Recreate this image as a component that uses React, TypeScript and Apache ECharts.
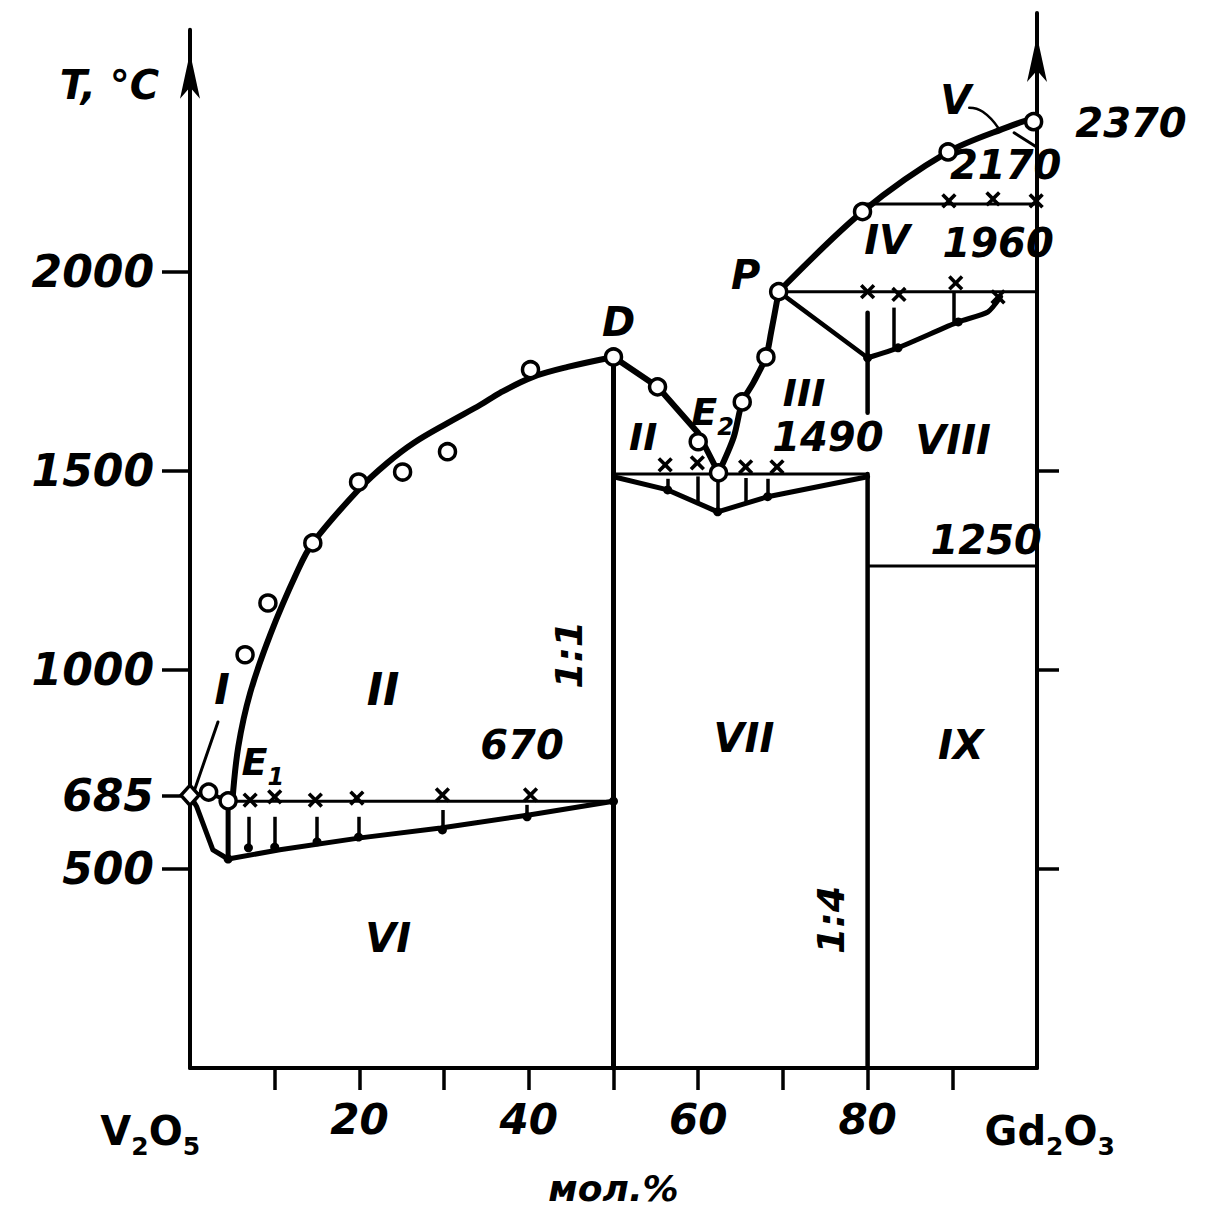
import React, { useEffect, useRef } from "react";
import * as echarts from "echarts";

// ---------- data (x: mol.% Gd2O3, y: T, °C) ----------
const yTickValues = [500, 685, 1000, 1500, 2000];
const yRightTicks = [500, 1000, 1500];
const xTickValues = [10, 20, 30, 40, 50, 60, 70, 80, 90];
const xLabelValues = [20, 40, 60, 80];

const liquidusLeft = [[5, 670], [5.7, 807], [7.1, 942], [9.5, 1090], [12.6, 1244], [14.5, 1319], [20, 1455], [23.3, 1520], [26.4, 1570], [30.4, 1620], [34.3, 1666], [36.6, 1696], [40.5, 1736], [44.6, 1761], [50, 1786]];
const liquidusDE2 = [[50, 1786], [55.2, 1711], [60, 1595], [62.4, 1495]];
const liquidusE2P = [[62.4, 1495], [64.2, 1585], [65.2, 1673], [66.5, 1721], [68, 1786], [68.6, 1847], [69.5, 1950]];
const liquidusTop = [[69.5, 1950], [79.4, 2151], [89.5, 2301], [96.6, 2364], [100, 2389]];
const v2o5Branch = [[0, 685], [2.2, 690], [4.5, 672]];
const eutectic670 = [[4.5, 670], [50, 670]];
const solidusLeftSteep = [[0, 685], [0.8, 656], [2.7, 548], [4.5, 525]];
const solidusLeft = [[4.5, 525], [10.6, 548], [20.1, 578], [29.6, 603], [40.2, 636], [50, 670]];
const vert45 = [[4.5, 670], [4.5, 525]];
const leaderI = [[0.4, 690], [3.3, 869]];
const line11 = [[50, 1786], [50, 0]];
const eutectic1490 = [[50, 1492], [80, 1492]];
const vBottom = [[50, 1485], [56.4, 1452], [62.3, 1397], [68.2, 1435], [80, 1485]];
const line14Upper = [[80, 1897], [80, 1646]];
const line14Lower = [[80, 1492], [80, 0]];
const pDiagonal = [[69.5, 1950], [80, 1784]];
const solidusRight = [[80, 1784], [83.6, 1809], [90.7, 1874], [94.2, 1899], [95.7, 1937]];
const peritectic1960 = [[69.5, 1950], [100, 1950]];
const line2170 = [[79.4, 2170], [100, 2170]];
const line1250 = [[80, 1261], [100, 1261]];
const arcV = [[97.3, 2349], [99.9, 2314]];
const leaderV = [[92, 2412], [93.6, 2402], [95.4, 2362]];
const leftAxis = [[0, 0], [0, 2608]];
const arrowTips = [[0, 2608], [100, 2650]];

// hatches: [x, top, bottom]
const hatches = [
  [6.9, 631, 553], [10, 631, 555], [15, 631, 568], [19.9, 631, 580], [29.8, 648, 598], [39.8, 661, 631],
  [56.4, 1480, 1452], [60, 1486, 1414], [62.3, 1495, 1397], [65.6, 1482, 1420], [68.2, 1480, 1435],
  [83.1, 1910, 1804], [90.2, 1947, 1874],
];

const circlePts = [[2.2, 693], [4.5, 671], [6.5, 1038], [9.2, 1168], [14.5, 1319], [19.9, 1472], [25.1, 1497], [30.4, 1548], [40.2, 1754], [50, 1786], [55.2, 1711], [60, 1573], [62.4, 1495], [65.2, 1673], [68, 1786], [69.5, 1950], [79.4, 2151], [89.5, 2301], [99.6, 2377]];
const crossPts = [[7.1, 673], [10, 681], [14.8, 673], [19.7, 678], [29.8, 686], [40.2, 686], [56.1, 1515], [59.9, 1520], [65.6, 1510], [69.3, 1510], [80, 1950], [83.7, 1943], [90.4, 1972], [95.4, 1937], [89.6, 2178], [94.8, 2183], [99.9, 2178]];
const dotPts = [[4.5, 525], [6.9, 553], [10, 555], [15, 568], [19.9, 580], [29.8, 598], [39.8, 631], [50, 670], [56.4, 1452], [62.3, 1397], [68.2, 1435], [80, 1784], [83.6, 1809], [90.7, 1874]];
const diamondPts = [[0, 685]];

// annotations: [text, x, T, fontSize, rotate, italic]
const annotations: [string, number, number, number, number, boolean][] = [
  ["T, °C", -9.5, 2470, 40, 0, true],
  ["I", 3.8, 950, 42, 0, true],
  ["II", 22.8, 950, 44, 0, true],
  ["{m|E}{s|1}", 8.6, 769, 38, 0, true],
  ["670", 39.2, 812, 40, 0, true],
  ["1:1", 44.7, 1038, 38, 90, true],
  ["VI", 23.4, 327, 40, 0, true],
  ["VII", 65.4, 829, 40, 0, true],
  ["IX", 91, 812, 40, 0, true],
  ["1:4", 75.7, 372, 38, 90, true],
  ["VIII", 90.1, 1578, 40, 0, true],
  ["III", 72.5, 1696, 38, 0, true],
  ["1490", 75.3, 1585, 40, 0, true],
  ["IV", 82.3, 2080, 40, 0, true],
  ["1960", 95.4, 2073, 40, 0, true],
  ["V", 90.4, 2432, 40, 0, true],
  ["2170", 96.3, 2269, 40, 0, true],
  ["2370", 111.1, 2374, 40, 0, true],
  ["P", 65.6, 1992, 40, 0, true],
  ["D", 50.6, 1874, 40, 0, true],
  ["{m|E}{s|2}", 61.7, 1648, 38, 0, true],
  ["II", 53.5, 1585, 38, 0, true],
  ["1250", 94, 1327, 40, 0, true],
  ["{m|V}{s|2}{m|O}{s|5}", -4.7, -158, 40, 0, false],
  ["{m|Gd}{s|2}{m|O}{s|3}", 101.5, -158, 40, 0, false],
];

const FONT = "DejaVu Sans";

function lineSeries(pts: number[][], width: number, smooth: number | boolean = false) {
  return {
    type: "line",
    data: pts,
    symbol: "none",
    smooth,
    clip: false,
    silent: true,
    lineStyle: { color: "#000", width, cap: "round", join: "round", opacity: 1 },
    z: 3,
  };
}

function buildOption() {
  const xShape = "path://M-1,-5L1,-5L1,-1L5,-1L5,1L1,1L1,5L-1,5L-1,1L-5,1L-5,-1L-1,-1Z";
  return {
    animation: false,
    backgroundColor: "#fff",
    grid: { left: 190, right: 177, top: 13, bottom: 154 },
    xAxis: {
      type: "value",
      min: 0,
      max: 100,
      name: "мол.%",
      nameLocation: "middle",
      nameGap: 102,
      nameTextStyle: { fontFamily: FONT, fontSize: 36, fontStyle: "italic", fontWeight: "bold", color: "#000" },
      axisLine: { show: true, lineStyle: { color: "#000", width: 4 } },
      axisTick: { show: true, customValues: xTickValues, length: 22, lineStyle: { color: "#000", width: 3.5 } },
      axisLabel: { show: true, customValues: xLabelValues, margin: 30, fontFamily: FONT, fontSize: 42, fontStyle: "italic", fontWeight: "bold", color: "#000", formatter: (v: number) => String(v) },
      splitLine: { show: false },
    },
    yAxis: [
      {
        type: "value",
        min: 0,
        max: 2650,
        position: "left",
        axisLine: { show: false },
        axisTick: { show: true, customValues: yTickValues, length: 28, lineStyle: { color: "#000", width: 3.5 } },
        axisLabel: { show: true, customValues: yTickValues, margin: 36, fontFamily: FONT, fontSize: 44, fontStyle: "italic", fontWeight: "bold", color: "#000", formatter: (v: number) => String(v) },
        splitLine: { show: false },
      },
      {
        type: "value",
        min: 0,
        max: 2650,
        position: "right",
        axisLine: { show: true, onZero: false, lineStyle: { color: "#000", width: 4 } },
        axisTick: { show: true, customValues: yRightTicks, length: 22, lineStyle: { color: "#000", width: 3.5 } },
        axisLabel: { show: false },
        splitLine: { show: false },
      },
    ],
    series: [
      lineSeries(leftAxis, 4),
      lineSeries(liquidusLeft, 6, 0.35),
      lineSeries(liquidusDE2, 6),
      lineSeries(liquidusE2P, 6, 0.3),
      lineSeries(liquidusTop, 6, 0.3),
      lineSeries(v2o5Branch, 4),
      lineSeries(eutectic670, 3),
      lineSeries(solidusLeftSteep, 5),
      lineSeries(solidusLeft, 5),
      lineSeries(vert45, 5),
      lineSeries(leaderI, 3),
      lineSeries(line11, 5),
      lineSeries(eutectic1490, 3),
      lineSeries(vBottom, 5),
      lineSeries(line14Upper, 4.5),
      lineSeries(line14Lower, 4.5),
      lineSeries(pDiagonal, 4.5),
      lineSeries(solidusRight, 5, 0.2),
      lineSeries(peritectic1960, 3),
      lineSeries(line2170, 3),
      lineSeries(line1250, 3),
      lineSeries(arcV, 3),
      lineSeries(leaderV, 2.5, 0.5),
      {
        type: "lines",
        coordinateSystem: "cartesian2d",
        silent: true,
        clip: false,
        lineStyle: { color: "#000", width: 3.5, opacity: 1 },
        data: hatches.map((h) => ({ coords: [[h[0], h[1]], [h[0], h[2]]] })),
        z: 3,
      },
      {
        type: "scatter",
        data: arrowTips,
        symbol: "arrow",
        symbolSize: [15, 46],
        symbolOffset: [0, "50%"],
        itemStyle: { color: "#000", opacity: 1 },
        clip: false,
        silent: true,
        z: 5,
      },
      {
        type: "scatter",
        data: dotPts,
        symbol: "circle",
        symbolSize: 9,
        itemStyle: { color: "#000", opacity: 1 },
        clip: false,
        silent: true,
        z: 5,
      },
      {
        type: "scatter",
        data: crossPts,
        symbol: xShape,
        symbolSize: 18,
        symbolRotate: 45,
        itemStyle: { color: "#000", opacity: 1 },
        clip: false,
        silent: true,
        z: 6,
      },
      {
        type: "scatter",
        data: circlePts,
        symbol: "circle",
        symbolSize: 16,
        itemStyle: { color: "#fff", borderColor: "#000", borderWidth: 3.5, opacity: 1 },
        clip: false,
        silent: true,
        z: 7,
      },
      {
        type: "scatter",
        data: diamondPts,
        symbol: "diamond",
        symbolSize: [18, 20],
        itemStyle: { color: "#fff", borderColor: "#000", borderWidth: 3.5, opacity: 1 },
        clip: false,
        silent: true,
        z: 7,
      },
      {
        type: "scatter",
        symbolSize: 0,
        clip: false,
        silent: true,
        z: 10,
        itemStyle: { opacity: 1, color: "#000" },
        data: annotations.map((a) => ({
          value: [a[1], a[2]],
          label: {
            show: true,
            position: [0, 0],
            align: "center",
            verticalAlign: "middle",
            formatter: a[0],
            rotate: a[4],
            fontFamily: FONT,
            fontSize: a[3],
            fontStyle: a[5] ? "italic" : "normal",
            fontWeight: "bold",
            color: "#000",
            opacity: 1,
            textBorderWidth: 0,
            rich: {
              m: { fontFamily: FONT, fontSize: a[3], fontStyle: a[5] ? "italic" : "normal", fontWeight: "bold", color: "#000", lineHeight: a[3] * 1.2 },
              s: { fontFamily: FONT, fontSize: Math.round(a[3] * 0.62), fontStyle: a[5] ? "italic" : "normal", fontWeight: "bold", color: "#000", lineHeight: a[3] * 0.62, verticalAlign: "bottom", padding: [0, 0, -4, 0] },
            },
          },
        })),
      },
    ],
  };
}

export default function App() {
  const ref = useRef<HTMLDivElement>(null);
  useEffect(() => {
    document.body.style.margin = "0";
    if (!ref.current) return;
    const chart = echarts.init(ref.current, null, { renderer: "svg" });
    chart.setOption(buildOption() as any);
    return () => chart.dispose();
  }, []);
  return <div ref={ref} style={{ width: 1214, height: 1222, background: "#fff" }} />;
}
